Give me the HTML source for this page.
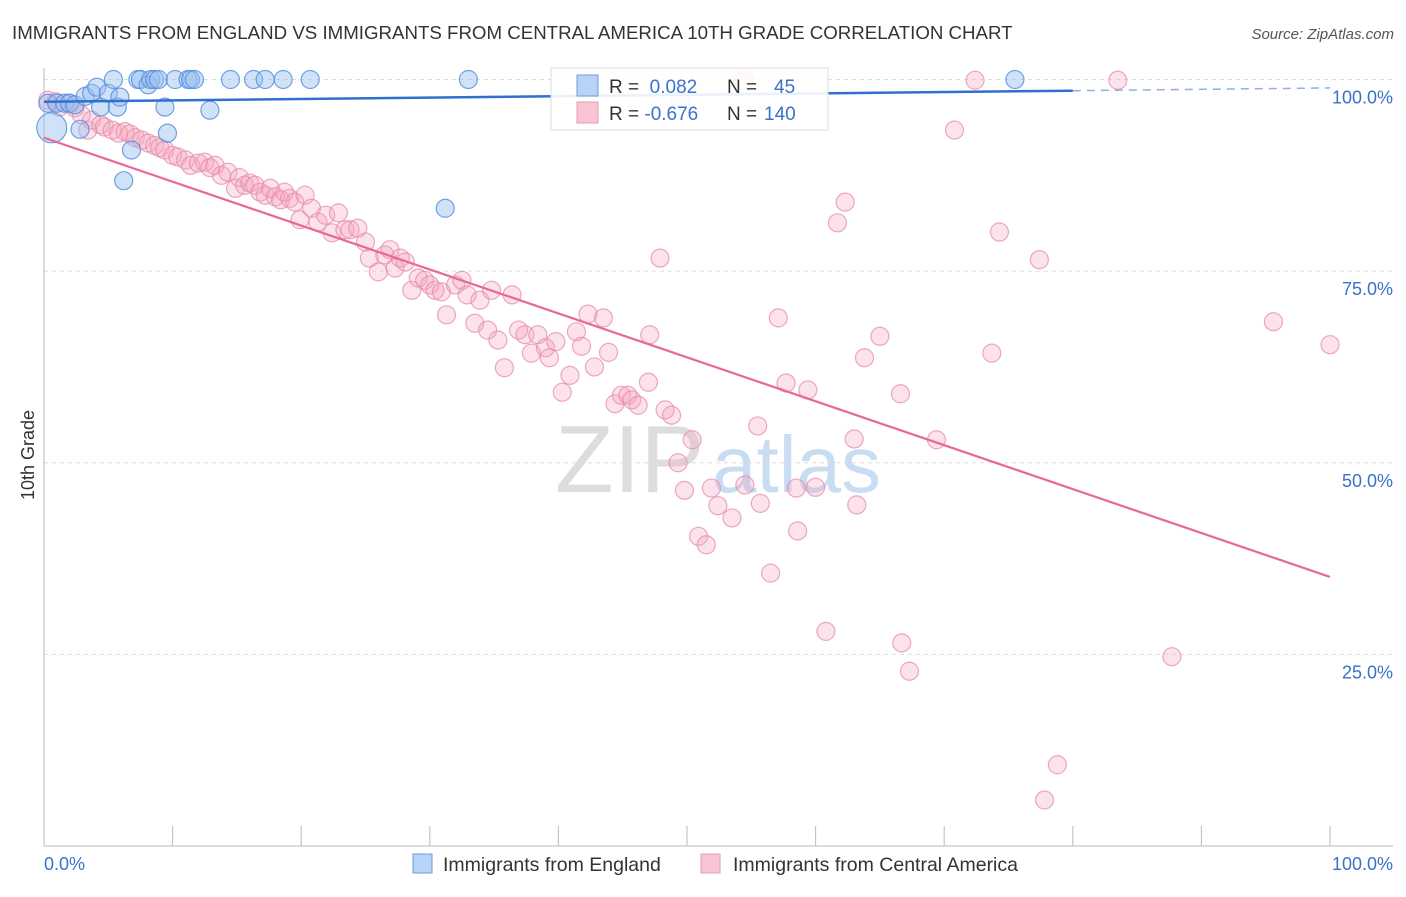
<!DOCTYPE html>
<html><head><meta charset="utf-8"><style>
body{margin:0;background:#fff;font-family:"Liberation Sans",sans-serif}
svg text{font-family:"Liberation Sans",sans-serif}
</style></head><body>
<svg id="c" width="1406" height="892" xmlns="http://www.w3.org/2000/svg">
<text x="12" y="39" font-size="18.7" fill="#333">IMMIGRANTS FROM ENGLAND VS IMMIGRANTS FROM CENTRAL AMERICA 10TH GRADE CORRELATION CHART</text>
<text x="1394" y="39" font-size="15" fill="#555" font-style="italic" text-anchor="end">Source: ZipAtlas.com</text>
<text x="0" y="0" font-size="18" fill="#333" transform="translate(34,455) rotate(-90)" text-anchor="middle">10th Grade</text>
<g><text x="555" y="492" font-size="96" font-family="Liberation Serif" fill="#ddd">ZIP</text><text x="712" y="492" font-size="80" fill="#c8dcf2">atlas</text></g>
<g id="grid"></g><g id="pts"></g><g id="trend"></g>
<g>
<rect x="551" y="68" width="277" height="62" fill="#fff" fill-opacity="0.9" stroke="#ddd"/>
<rect x="577" y="75" width="21" height="21" fill="#b8d3f5" stroke="#6a9ee0"/>
<rect x="577" y="102" width="21" height="21" fill="#f9c5d5" stroke="#e89ab4"/>
<text x="609" y="93" font-size="19" fill="#333">R = <tspan fill="#3a72c8">&#160;0.082</tspan><tspan x="727">N = </tspan><tspan x="774" fill="#3a72c8">45</tspan></text>
<text x="609" y="120" font-size="19" fill="#333">R = <tspan fill="#3a72c8">-0.676</tspan><tspan x="727">N = </tspan><tspan x="764" fill="#3a72c8">140</tspan></text>
</g>
<g>
<rect x="413" y="854" width="19" height="19" fill="#b8d3f5" stroke="#6a9ee0"/>
<text x="443" y="871" font-size="19.5" fill="#333">Immigrants from England</text>
<rect x="701" y="854" width="19" height="19" fill="#f9c5d5" stroke="#e89ab4"/>
<text x="733" y="871" font-size="19.5" fill="#333">Immigrants from Central America</text>
</g>
</svg>
<script>
const yTicks=[25,50,75,100];
const yTickLabels=["25.0%","50.0%","75.0%","100.0%"];
const xTicks=[0,10,20,30,40,50,60,70,80,90,100];
const blueX=[0.3,0.6,1.0,1.6,2.0,2.4,2.8,3.2,3.7,4.1,4.4,5.0,5.4,5.7,5.9,6.2,6.8,7.3,7.5,8.1,8.3,8.6,8.9,9.4,9.6,10.2,11.2,11.4,11.7,12.9,14.5,16.3,17.2,18.6,20.7,31.2,33.0,75.5,49.5];
const blueY=[96.9,93.7,96.9,96.9,96.9,96.7,93.5,97.8,98.2,99.0,96.4,98.2,100,96.4,97.7,86.8,90.8,100,100,99.3,100,100,100,96.4,93.0,100,100,100,100,96.0,100,100,100,100,100,83.2,100,100,97.2];
const blueR=[9,15,9,9,9,9,9,9,9,9,9,9,9,9,9,9,9,9,9,9,9,9,9,9,9,9,9,9,9,9,9,9,9,9,9,9,9,9,9];
const pinkX=[0.3,0.9,1.2,1.9,2.4,2.9,3.4,3.7,4.4,4.7,5.3,5.8,6.3,6.7,7.1,7.6,8.1,8.6,9.0,9.4,10.0,10.4,11.0,11.4,12.0,12.5,12.9,13.3,13.8,14.3,14.9,15.2,15.6,16.0,16.4,16.8,17.2,17.6,18.0,18.4,18.7,19.1,19.5,19.9,20.3,20.8,21.3,21.9,22.4,22.9,23.4,23.8,24.4,25.0,25.3,26.0,26.5,26.9,27.3,27.7,28.1,28.6,29.1,29.6,30.0,30.4,30.9,31.3,32.0,32.5,32.9,33.5,33.9,34.5,34.8,35.3,35.8,36.4,36.9,37.4,37.9,38.4,39.0,39.3,39.8,40.3,40.9,41.4,41.8,42.3,42.8,43.5,43.9,44.4,44.9,45.4,45.7,46.2,47.0,47.1,47.9,48.3,48.8,49.3,49.8,50.4,50.9,51.5,51.9,52.4,53.5,54.5,55.5,55.7,56.5,57.1,57.7,58.5,58.6,59.4,60.0,60.8,61.7,62.3,63.0,63.2,63.8,65.0,66.6,66.7,67.3,69.4,70.8,72.4,73.7,74.3,77.4,77.8,78.8,83.5,87.7,95.6,100,54.5,54.3];
const pinkY=[97.3,97.1,96.4,96.9,96.3,95.4,93.4,94.7,94.1,93.8,93.4,93.0,93.2,92.9,92.4,92.1,91.7,91.4,91.1,90.8,90.1,89.9,89.5,88.8,89.1,89.2,88.5,88.8,87.5,87.9,85.8,87.2,86.2,86.5,86.2,85.3,84.9,85.8,84.7,84.3,85.3,84.5,84.0,81.7,84.9,83.2,81.4,82.3,80.0,82.6,80.4,80.4,80.6,78.8,76.7,74.9,77.1,77.8,75.4,76.7,76.2,72.5,74.1,73.8,73.2,72.5,72.3,69.3,73.2,73.8,71.9,68.2,71.2,67.3,72.5,66.0,62.4,71.9,67.3,66.7,64.3,66.7,65.0,63.7,65.8,59.2,61.4,67.1,65.2,69.4,62.5,68.9,64.4,57.7,58.8,58.8,58.2,57.5,60.5,66.7,76.7,56.9,56.2,50.0,46.4,53.0,40.4,39.3,46.7,44.4,42.8,47.1,54.8,44.7,35.6,68.9,60.4,46.7,41.1,59.5,46.8,28.0,81.3,84.0,53.1,44.5,63.7,66.5,59.0,26.5,22.8,53.0,93.4,99.9,64.3,80.1,76.5,6.0,10.6,99.9,24.7,68.4,65.4,99.9,99.9];
const blueTrend=[97.1,98.9];
const pinkTrend=[92.4,35.1];
const NS='http://www.w3.org/2000/svg';
const X=v=>44+v*12.86, Y=v=>846-v*7.665;
function mk(t,a,p){const e=document.createElementNS(NS,t);for(const k in a)e.setAttribute(k,a[k]);document.getElementById(p).appendChild(e);return e;}
const g='grid';
yTicks.forEach((t,i)=>{
 const l=mk('line',{x1:44,x2:1393,y1:Y(t),y2:Y(t),stroke:'#ddd','stroke-dasharray':'4,4'},g);
 
 
 const tx=mk('text',{x:1393,y:Y(t)+24,'font-size':18,fill:'#3a72c8','text-anchor':'end'},g);tx.textContent=yTickLabels[i];
 
 
});
const ax=mk('line',{x1:44,x2:44,y1:68,y2:846,stroke:'#bbb'},g);


const bx=mk('line',{x1:44,x2:1393,y1:846,y2:846,stroke:'#bbb'},g);


xTicks.forEach(t=>{const l=mk('line',{x1:X(t),x2:X(t),y1:826,y2:846,stroke:'#bbb'},g);
 
 });
let t0=mk('text',{x:44,y:870,'font-size':18,fill:'#3a72c8'},g);t0.textContent='0.0%';


let t1=mk('text',{x:1393,y:870,'font-size':18,fill:'#3a72c8','text-anchor':'end'},g);t1.textContent='100.0%';


pinkX.forEach((x,i)=>{const c=mk('circle',{cx:X(x),cy:Y(pinkY[i]),r:9,fill:'rgba(245,165,190,0.32)',stroke:'rgba(230,140,170,0.75)','stroke-width':1.2},'pts');
 
 });
blueX.forEach((x,i)=>{const c=mk('circle',{cx:X(x),cy:Y(blueY[i]),r:blueR[i],fill:'rgba(150,190,240,0.45)',stroke:'rgba(80,140,220,0.8)','stroke-width':1.2},'pts');
 
 });
const bm=blueTrend[0]+(blueTrend[1]-blueTrend[0])*0.8;
let l1=mk('line',{x1:X(0),y1:Y(blueTrend[0]),x2:X(80),y2:Y(bm),stroke:'#2f6fd0','stroke-width':2.5},'trend');


let l2=mk('line',{x1:X(80),y1:Y(bm),x2:X(100),y2:Y(blueTrend[1]),stroke:'#8fb0e0','stroke-width':1.5,'stroke-dasharray':'8,6'},'trend');


let l3=mk('line',{x1:X(0),y1:Y(pinkTrend[0]),x2:X(100),y2:Y(pinkTrend[1]),stroke:'#e8689a','stroke-width':2.2},'trend');


</script>
</body></html>
